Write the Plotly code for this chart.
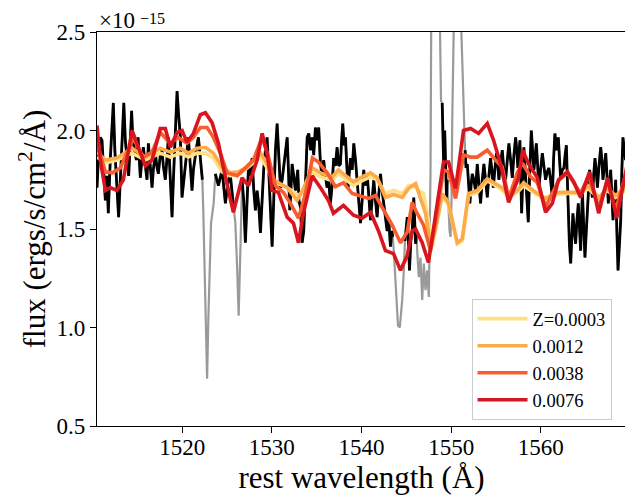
import plotly.graph_objects as go

# ---------------- data (flux in units of 1e-15 erg/s/cm^2/A) ----------------
wave = [
    1510.50, 1510.70, 1510.87, 1511.06, 1511.20, 1511.43, 1511.60, 1511.76, 1511.98, 1512.32,
    1512.49, 1512.62, 1512.77, 1512.91, 1513.10, 1513.32, 1513.49, 1513.66, 1513.85, 1514.03,
    1514.22, 1514.36, 1514.50, 1514.66, 1514.89, 1515.08, 1515.22, 1515.33, 1515.50, 1515.67,
    1515.89, 1516.08, 1516.23, 1516.45, 1516.64, 1516.78, 1517.01, 1517.17, 1517.34, 1517.56,
    1517.75, 1517.90, 1518.12, 1518.29, 1518.46, 1518.68, 1518.87, 1519.02, 1519.24, 1519.43,
    1519.57, 1519.80, 1519.98, 1520.13, 1520.35, 1520.52, 1520.69, 1520.91, 1521.10, 1521.25,
    1521.47, 1521.64, 1521.81, 1522.03, 1522.25,
    1522.35, 1522.50, 1522.62, 1522.78, 1522.92, 1523.08, 1523.22, 1523.51,
    1523.70, 1524.04, 1524.45, 1524.65, 1524.82, 1525.15, 1525.38, 1525.60, 1525.77,
    1525.93, 1526.13, 1526.30, 1526.49, 1526.60,
    1526.68, 1526.86, 1527.05, 1527.24, 1527.39, 1527.61, 1527.80, 1527.98, 1528.17, 1528.36,
    1528.54, 1528.73, 1528.91, 1529.09, 1529.28, 1529.47, 1529.65, 1529.84, 1530.03, 1530.21,
    1530.40, 1530.59, 1530.77, 1530.96, 1531.15, 1531.29, 1531.52, 1531.71, 1531.85, 1532.00,
    1532.13, 1532.26, 1532.44, 1532.63, 1532.89, 1533.02, 1533.19, 1533.38, 1533.56, 1533.75,
    1533.94, 1534.12, 1534.31, 1534.50, 1534.67, 1534.86, 1535.05, 1535.23, 1535.42, 1535.60,
    1535.78, 1535.97, 1536.16, 1536.34, 1536.53, 1536.72, 1536.90, 1537.09, 1537.28, 1537.46,
    1537.65, 1537.78, 1537.91, 1538.06, 1538.21, 1538.36, 1538.51, 1538.66, 1538.77, 1538.96,
    1539.14, 1539.33, 1539.51, 1539.70, 1539.89, 1540.07, 1540.25, 1540.44, 1540.63, 1540.81,
    1541.00, 1541.18, 1541.37, 1541.56, 1541.74, 1541.92, 1542.12, 1542.30, 1542.48, 1542.67,
    1542.86, 1543.04, 1543.23, 1543.39, 1543.48,
    1543.60, 1543.79, 1543.96, 1544.07, 1544.27, 1544.41, 1544.54, 1544.72,
    1544.85, 1545.10, 1545.24, 1545.35, 1545.50, 1545.66, 1545.83, 1545.93, 1546.03, 1546.14,
    1546.21, 1546.39, 1546.58, 1546.77, 1546.95, 1547.14, 1547.33, 1547.51, 1547.60, 1547.70,
    1547.77, 1547.95, 1548.30, 1548.60, 1548.76, 1548.87,
    1549.00, 1549.09, 1549.18, 1549.28, 1549.37, 1549.48, 1549.56,
    1549.67, 1549.82, 1549.93, 1550.04, 1550.12, 1550.23, 1550.50, 1550.80, 1551.10, 1551.27,
    1551.41,
    1551.55, 1551.66, 1551.80, 1551.94, 1552.09, 1552.22, 1552.35, 1552.53, 1552.72, 1552.91,
    1553.09, 1553.28, 1553.47, 1553.65, 1553.84, 1554.03, 1554.21, 1554.39, 1554.54, 1554.70,
    1554.87, 1555.06, 1555.21, 1555.32, 1555.51, 1555.70, 1555.88, 1556.07, 1556.26, 1556.44,
    1556.63, 1556.82, 1557.00, 1557.19, 1557.32, 1557.44, 1557.56, 1557.67, 1557.86, 1557.97,
    1558.11, 1558.36, 1558.60, 1558.77, 1558.94, 1559.08, 1559.23, 1559.50, 1559.64, 1559.79,
    1559.97, 1560.17, 1560.34, 1560.53, 1560.72, 1560.90, 1561.09, 1561.28, 1561.42, 1561.57,
    1561.76, 1561.95, 1562.09, 1562.21, 1562.40, 1562.58, 1562.71, 1562.85, 1562.96, 1563.07,
    1563.19, 1563.33, 1563.46, 1563.58, 1563.74, 1563.88, 1564.03, 1564.18, 1564.33, 1564.44,
    1564.55, 1564.63, 1564.78, 1564.92, 1565.05, 1565.19, 1565.33, 1565.44, 1565.59, 1565.75,
    1565.89, 1566.04, 1566.17, 1566.31, 1566.49, 1566.68, 1566.81, 1566.93, 1567.09, 1567.24,
    1567.38, 1567.53, 1567.66, 1567.79, 1567.93, 1568.05, 1568.21, 1568.35, 1568.48, 1568.61,
    1568.76, 1568.91, 1569.04, 1569.16, 1569.32, 1569.46, 1569.62,
]
flux = [
    1.71, 1.90, 1.965, 1.95, 1.83, 1.645, 1.77, 1.58, 1.85, 2.14,
    1.90, 1.80, 1.70, 1.56, 1.75, 2.00, 2.14, 1.95, 1.86, 1.77,
    1.95, 2.10, 1.95, 1.90, 1.85, 1.965, 1.85, 1.76, 1.85, 1.915,
    1.82, 1.75, 1.935, 1.82, 1.71, 1.80, 1.885, 1.82, 1.78, 1.875,
    1.90, 1.82, 1.75, 1.85, 1.965, 1.75, 1.56, 1.75, 2.00, 2.20,
    2.10, 1.965, 1.66, 1.72, 1.80, 1.90, 1.965, 1.82, 1.695, 1.80,
    1.885, 1.925, 1.965, 1.85, 1.75,
    1.60, 1.306, 0.97, 0.74, 1.05, 1.30, 1.53, 1.63,
    1.78, 1.72, 1.80, 1.70, 1.63, 1.75, 1.77, 1.67, 1.595,
    1.53, 1.305, 1.06, 1.39, 1.64,
    1.75, 1.645, 1.43, 1.645, 1.81, 1.77, 1.86, 1.70, 1.595, 1.695,
    1.62, 1.48, 1.645, 1.80, 1.90, 1.965, 1.80, 1.56, 1.41, 1.645,
    1.90, 2.035, 1.90, 1.71, 1.75, 1.80, 1.90, 1.965, 1.80, 1.595,
    1.695, 1.83, 1.77, 1.695, 1.80, 1.645, 1.61, 1.43, 1.49, 1.695,
    1.965, 1.985, 1.90, 1.965, 1.875, 2.015, 1.95, 2.015, 1.83, 1.77,
    1.85, 1.77, 1.71, 1.75, 1.63, 1.72, 1.86, 1.82, 1.915, 1.82,
    1.83, 1.95, 2.035, 1.925, 1.965, 1.82, 1.71, 1.80, 1.86, 1.80,
    1.935, 1.85, 1.73, 1.645, 1.53, 1.645, 1.80, 1.72, 1.78, 1.67,
    1.545, 1.645, 1.75, 1.645, 1.56, 1.67, 1.78, 1.695, 1.63, 1.57,
    1.49, 1.545, 1.41, 1.49, 1.46,
    1.39, 1.255, 1.11, 1.01, 1.00, 1.06, 1.14, 1.29,
    1.44, 1.56, 1.44, 1.29, 1.44, 1.49, 1.66, 1.57, 1.425, 1.49,
    1.39, 1.255, 1.355, 1.14, 1.325, 1.19, 1.29, 1.155, 1.39, 1.80,
    2.50, 3.00, 3.30, 3.00, 2.50, 2.15,
    2.14, 1.95, 1.80, 2.00, 1.81, 1.66, 1.75,
    1.595, 1.49, 1.46, 1.645, 2.05, 2.50, 3.10, 3.00, 2.50, 2.25,
    2.10,
    1.90, 1.81, 1.83, 1.75, 1.63, 1.72, 1.78, 1.75, 1.695, 1.83,
    1.72, 1.63, 1.75, 1.83, 1.75, 1.66, 1.77, 1.86, 1.80, 1.71,
    1.80, 1.885, 1.82, 1.75, 1.83, 1.90, 1.80, 1.75, 1.85, 1.935,
    1.85, 1.76, 1.875, 1.965, 1.90, 1.81, 1.875, 1.95, 1.58, 1.75,
    1.915, 1.72, 1.535, 1.80, 2.00, 1.90, 1.80, 1.935, 1.82, 1.71,
    1.80, 1.885, 1.82, 1.75, 1.79, 1.81, 1.75, 1.66, 1.85, 1.985,
    1.90, 1.965, 1.85, 1.76, 1.80, 1.81, 1.875, 1.925, 1.75, 1.56,
    1.42, 1.325, 1.44, 1.58, 1.49, 1.425, 1.545, 1.63, 1.49, 1.39,
    1.545, 1.695, 1.52, 1.355, 1.47, 1.595, 1.695, 1.80, 1.72, 1.66,
    1.77, 1.86, 1.80, 1.71, 1.82, 1.915, 1.85, 1.75, 1.82, 1.885,
    1.77, 1.63, 1.72, 1.80, 1.67, 1.545, 1.645, 1.75, 1.49, 1.29,
    1.415, 1.545, 1.80, 1.965, 1.90, 1.85, 1.90,
]

# wavelength windows masked in the fit (shown in grey)
mask_lo = [1522.30, 1525.85, 1543.55, 1546.18, 1549.62]
mask_hi = [1523.55, 1526.62, 1544.80, 1548.95, 1551.45]

# model spectra
wave_z0003 = [1510.50, 1511.43, 1512.73, 1514.41, 1515.89, 1517.56, 1518.68, 1519.80, 1520.69, 1521.66,
              1522.59, 1523.48, 1524.45, 1525.38, 1526.27, 1527.24, 1528.73, 1529.47, 1530.18, 1531.71,
              1532.97, 1533.52, 1534.50, 1535.42, 1536.73, 1537.43, 1538.40, 1539.11, 1540.07, 1541.00,
              1541.75, 1542.67, 1543.57, 1544.54, 1545.24, 1545.66, 1546.14, 1546.92, 1547.36, 1547.89,
              1548.37, 1549.00, 1549.71, 1550.68, 1551.24, 1551.94, 1552.91, 1554.03, 1554.95, 1555.70,
              1556.41, 1557.37, 1558.08, 1559.42, 1560.53, 1561.84, 1563.10, 1564.44, 1565.33, 1566.45,
              1567.42, 1568.35, 1569.65]
flux_z0003 = [1.865, 1.835, 1.85, 1.885, 1.85, 1.885, 1.865, 1.885, 1.865, 1.885,
              1.885, 1.86, 1.79, 1.77, 1.78, 1.81, 1.865, 1.81, 1.74, 1.71,
              1.67, 1.696, 1.785, 1.765, 1.745, 1.785, 1.745, 1.72, 1.745, 1.765,
              1.75, 1.68, 1.696, 1.68, 1.72, 1.72, 1.705, 1.68, 1.57, 1.41,
              1.52, 1.67, 1.62, 1.425, 1.44, 1.67, 1.686, 1.745, 1.72, 1.70,
              1.66, 1.686, 1.72, 1.68, 1.645, 1.675, 1.68, 1.68, 1.705, 1.655,
              1.696, 1.66, 1.705]

wave_z0012 = [1510.50, 1511.43, 1512.73, 1514.41, 1515.89, 1517.56, 1518.68, 1519.80, 1520.69, 1521.66,
              1522.59, 1523.48, 1524.45, 1525.38, 1526.27, 1527.24, 1528.73, 1529.47, 1530.18, 1531.71,
              1532.82, 1533.52, 1534.50, 1535.42, 1536.73, 1537.43, 1538.40, 1539.11, 1540.07, 1541.00,
              1541.75, 1542.67, 1543.57, 1544.54, 1545.24, 1546.03, 1547.14, 1547.70, 1548.26, 1549.00,
              1549.71, 1550.68, 1551.24, 1551.94, 1552.91, 1554.03, 1554.95, 1555.70, 1556.41, 1557.37,
              1558.08, 1559.42, 1560.53, 1561.84, 1563.10, 1564.44, 1565.33, 1566.45, 1567.42, 1568.35,
              1569.65]
flux_z0012 = [1.89, 1.85, 1.86, 1.91, 1.865, 1.91, 1.89, 1.91, 1.885, 1.91,
              1.915, 1.885, 1.815, 1.785, 1.79, 1.815, 1.885, 1.835, 1.75, 1.71,
              1.645, 1.705, 1.81, 1.785, 1.765, 1.80, 1.765, 1.74, 1.765, 1.785,
              1.76, 1.66, 1.675, 1.66, 1.705, 1.73, 1.58, 1.415, 1.50, 1.68,
              1.63, 1.43, 1.45, 1.68, 1.696, 1.755, 1.73, 1.71, 1.67, 1.695,
              1.735, 1.686, 1.655, 1.686, 1.686, 1.686, 1.72, 1.66, 1.705, 1.67,
              1.72]

wave_z0038 = [1510.50, 1511.43, 1512.21, 1513.10, 1514.55, 1515.67, 1516.64, 1517.56, 1518.68, 1519.57,
              1520.54, 1521.25, 1522.03, 1522.78, 1523.48, 1524.26, 1525.01, 1526.13, 1526.83, 1527.94,
              1528.92, 1529.62, 1530.40, 1531.29, 1532.07, 1532.97, 1533.75, 1534.53, 1535.20, 1536.17,
              1537.09, 1537.99, 1538.96, 1539.66, 1540.78, 1541.56, 1542.46, 1543.42, 1544.35, 1545.10,
              1545.66, 1546.03, 1546.92, 1547.70, 1548.45, 1549.15, 1549.71, 1550.49, 1551.38, 1552.17,
              1552.91, 1554.03, 1554.95, 1555.70, 1556.41, 1557.37, 1557.93, 1558.86, 1559.61, 1560.53,
              1561.98, 1562.96, 1564.44, 1565.33, 1566.45, 1567.42, 1568.35, 1569.65]
flux_z0038 = [1.935, 1.79, 1.785, 1.81, 1.96, 1.865, 1.89, 1.99, 1.935, 1.965,
              1.935, 1.965, 2.015, 2.015, 1.965, 1.885, 1.785, 1.77, 1.80, 1.85,
              1.965, 1.865, 1.72, 1.686, 1.63, 1.555, 1.68, 1.86, 1.84, 1.785,
              1.715, 1.735, 1.68, 1.67, 1.655, 1.67, 1.595, 1.52, 1.43, 1.485,
              1.635, 1.595, 1.52, 1.39, 1.585, 1.80, 1.79, 1.655, 1.875, 1.865,
              1.865, 1.90, 1.85, 1.815, 1.655, 1.785, 1.835, 1.765, 1.735, 1.61,
              1.745, 1.785, 1.68, 1.77, 1.61, 1.745, 1.595, 1.81]

wave_z0076 = [1510.50, 1510.87, 1511.43, 1511.98, 1512.73, 1513.44, 1514.41, 1515.11, 1515.89, 1516.64,
              1517.56, 1518.12, 1518.68, 1519.43, 1519.99, 1520.54, 1521.25, 1522.03, 1522.59, 1523.33,
              1524.04, 1524.60, 1525.38, 1525.71, 1526.68, 1527.39, 1528.36, 1528.92, 1529.47, 1530.03,
              1530.73, 1531.71, 1532.41, 1532.97, 1533.52, 1534.50, 1535.42, 1536.31, 1536.87, 1537.99,
              1539.11, 1540.07, 1541.00, 1541.90, 1542.67, 1543.57, 1544.35, 1545.10, 1545.66, 1546.03,
              1546.77, 1547.47, 1548.45, 1549.15, 1549.71, 1550.49, 1551.38, 1552.17, 1553.06, 1554.03,
              1554.73, 1555.51, 1556.41, 1557.52, 1557.97, 1558.64, 1559.61, 1560.53, 1561.28, 1561.98,
              1562.96, 1563.66, 1564.44, 1565.44, 1566.45, 1567.45, 1568.46, 1569.65]
flux_z0076 = [2.026, 1.85, 1.696, 1.71, 1.696, 1.75, 2.00, 1.915, 1.82, 1.85,
              2.01, 2.01, 1.915, 1.99, 2.00, 1.94, 1.985, 2.08, 2.09, 2.04,
              1.935, 1.81, 1.645, 1.585, 1.76, 1.72, 1.85, 1.985, 1.885, 1.696,
              1.686, 1.56, 1.53, 1.43, 1.58, 1.77, 1.71, 1.645, 1.58, 1.62,
              1.57, 1.555, 1.585, 1.49, 1.39, 1.375, 1.29, 1.365, 1.49, 1.50,
              1.43, 1.33, 1.63, 1.84, 1.84, 1.705, 2.00, 2.01, 1.985, 2.036,
              1.95, 1.83, 1.635, 1.76, 1.90, 1.83, 1.76, 1.585, 1.63, 1.75,
              1.79, 1.74, 1.66, 1.79, 1.58, 1.76, 1.555, 1.83]

model_labels = ["Z=0.0003", "0.0012", "0.0038", "0.0076"]
model_colors = ["#fee085", "#fdab4a", "#f85d30", "#d8161f"]

x_ticks = [1520, 1530, 1540, 1550, 1560]
y_ticks = [0.5, 1.0, 1.5, 2.0, 2.5]

# ---------------- figure ----------------
def in_mask(w):
    return any(lo <= w <= hi for lo, hi in zip(mask_lo, mask_hi))

flux_good = [None if in_mask(w) else f for w, f in zip(wave, flux)]

FONT = "Liberation Serif"
fig = go.Figure()
fig.add_trace(go.Scatter(x=wave, y=flux, mode="lines", line=dict(color="#9a9a9a", width=2.2),
                         showlegend=False, hoverinfo="skip"))
fig.add_trace(go.Scatter(x=wave, y=flux_good, mode="lines", line=dict(color="black", width=2.8),
                         showlegend=False, connectgaps=False))

model_waves = [wave_z0003, wave_z0012, wave_z0038, wave_z0076]
model_fluxes = [flux_z0003, flux_z0012, flux_z0038, flux_z0076]
for wv, fl, lab, col in zip(model_waves, model_fluxes, model_labels, model_colors):
    fig.add_trace(go.Scatter(x=wv, y=fl, mode="lines", name=lab,
                             line=dict(color=col, width=3.6)))

axis_common = dict(showline=True, mirror=True, linecolor="black", linewidth=1.2,
                   ticks="outside", ticklen=6, tickwidth=1.2, tickcolor="black",
                   showgrid=False, zeroline=False,
                   tickfont=dict(family=FONT, size=23, color="black"),
                   title_font=dict(family=FONT, size=31, color="black"))

# page body has an 8 px margin: figure is sized / placed to compensate
fig.update_layout(
    width=625, height=493,
    margin=dict(l=89, r=7, t=24, b=75),
    paper_bgcolor="white", plot_bgcolor="white",
    font=dict(family=FONT, color="black"),
    xaxis=dict(range=[1510.5, 1569.5], tickvals=x_ticks, ticklabelstandoff=-6,
               title=dict(text="rest wavelength (Å)", standoff=0), **axis_common),
    yaxis=dict(range=[0.5, 2.5], tickvals=y_ticks, tickformat=".1f",
               title=dict(text="flux (ergs/s/cm<sup>2</sup>/Å)", standoff=1), **axis_common),
    legend=dict(x=0.708, y=0.322, xanchor="left", yanchor="top", itemwidth=50,
                bgcolor="rgba(255,255,255,0.85)", bordercolor="#cccccc", borderwidth=1,
                font=dict(family=FONT, size=18.5, color="black")),
    annotations=[
        dict(text="×10", xref="paper", yref="paper", x=0.0, y=1.0297,
             xanchor="left", yanchor="middle", showarrow=False,
             font=dict(family=FONT, size=23, color="black")),
        dict(text="−15", xref="paper", yref="paper", x=0.08, y=1.058,
             xanchor="left", yanchor="top", showarrow=False, borderpad=0,
             font=dict(family=FONT, size=16, color="black")),
    ],
)

fig.write_html("out.html")
